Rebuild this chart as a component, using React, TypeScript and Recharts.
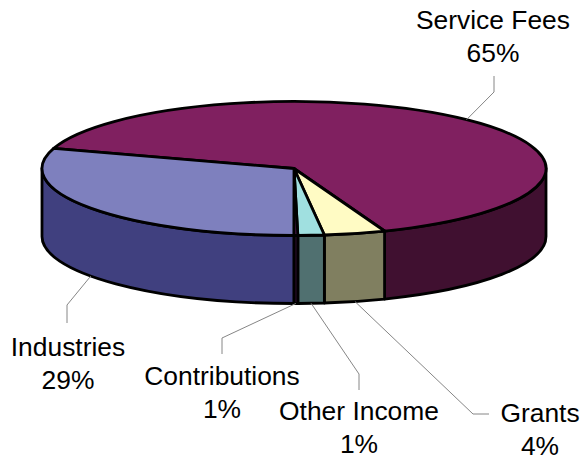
import React from "react";
import { PieChart, Pie } from "recharts";

const categories = ["Service Fees", "Grants", "Other Income", "Contributions", "Industries"];
const shares = [64.3, 3.93, 1.68, 0.25, 29.86];
const shownPercents = ["65%", "4%", "1%", "1%", "29%"];

const topColors = ["#802060", "#FFFBC4", "#A0E0E0", "#602060", "#7E80BE"];
const sideColors = ["#401030", "#807F60", "#507070", "#301030", "#40407F"];

// where each label sits and the bend of its leader line
const labelSpots = [
  { x: 493, y: 29, elbowX: 494, elbowY: 92, endY: 76 },
  { x: 540, y: 422, elbowX: 473, elbowY: 414, endX: 489, endY: 414 },
  { x: 359, y: 420, elbowX: 359, elbowY: 374, endY: 390 },
  { x: 222, y: 385, elbowX: 222, elbowY: 338, endY: 354 },
  { x: 68, y: 356, elbowX: 67, elbowY: 305, endY: 323 },
];

const WIDTH = 582;
const HEIGHT = 460;
const RX = 252;
const RY = 67;
const DEPTH = 68;
const RAD = Math.PI / 180;

const rows = categories.map((name, i) => ({
  name,
  value: shares[i],
  fill: topColors[i],
  side: sideColors[i],
}));

// Pie gives us circular angles, we squash them onto an ellipse and add a wall
const Slice3D = (props: any) => {
  const { cx, cy, startAngle, endAngle, fill, side } = props;
  const hi = Math.max(startAngle, endAngle);
  const lo = Math.min(startAngle, endAngle);
  const pt = (a: number, dy = 0) =>
    `${cx + RX * Math.cos(a * RAD)} ${cy - RY * Math.sin(a * RAD) + dy}`;
  const large = hi - lo > 180 ? 1 : 0;
  const top = `M ${cx} ${cy} L ${pt(hi)} A ${RX} ${RY} 0 ${large} 1 ${pt(lo)} Z`;

  // only the front half (0 to -180) shows a wall
  const a = Math.min(hi, 0);
  const b = Math.max(lo, -180);
  const wall =
    a > b
      ? `M ${pt(a)} A ${RX} ${RY} 0 0 1 ${pt(b)} L ${pt(b, DEPTH)} A ${RX} ${RY} 0 0 0 ${pt(a, DEPTH)} Z`
      : null;

  return (
    <g>
      {wall && <path d={wall} fill={side} stroke="#000" strokeWidth={2.8} strokeLinejoin="round" />}
      <path d={top} fill={fill} stroke="#000" strokeWidth={2.8} strokeLinejoin="round" />
    </g>
  );
};

const renderLabel = (props: any) => {
  const { cx, cy, midAngle, index } = props;
  const spot = labelSpots[index];
  const front = midAngle < 0 || midAngle > 180;
  const sx = cx + RX * Math.cos(midAngle * RAD);
  const sy = cy - RY * Math.sin(midAngle * RAD) + (front ? DEPTH : 0);
  const endX = spot.endX ?? spot.elbowX;
  return (
    <g>
      <polyline
        points={`${sx},${sy} ${spot.elbowX},${spot.elbowY} ${endX},${spot.endY}`}
        fill="none"
        stroke="#868686"
        strokeWidth={1}
      />
      <text x={spot.x} y={spot.y} textAnchor="middle" fontSize={26.4} fontFamily="Liberation Sans" fill="#000">
        {categories[index]}
      </text>
      <text x={spot.x} y={spot.y + 33} textAnchor="middle" fontSize={26.4} fontFamily="Liberation Sans" fill="#000">
        {shownPercents[index]}
      </text>
    </g>
  );
};

export default function App() {
  return (
    <div style={{ position: "fixed", left: 0, top: 0, width: WIDTH, height: HEIGHT, background: "#fff" }}>
      <PieChart width={WIDTH} height={HEIGHT} margin={{ top: 0, right: 0, bottom: 0, left: 0 }}>
        <Pie
          data={rows}
          dataKey="value"
          nameKey="name"
          cx={294}
          cy={168.5}
          outerRadius={RX}
          startAngle={162.5}
          endAngle={-197.5}
          paddingAngle={0}
          shape={Slice3D}
          label={renderLabel}
          labelLine={false}
          isAnimationActive={false}
        />
      </PieChart>
    </div>
  );
}
